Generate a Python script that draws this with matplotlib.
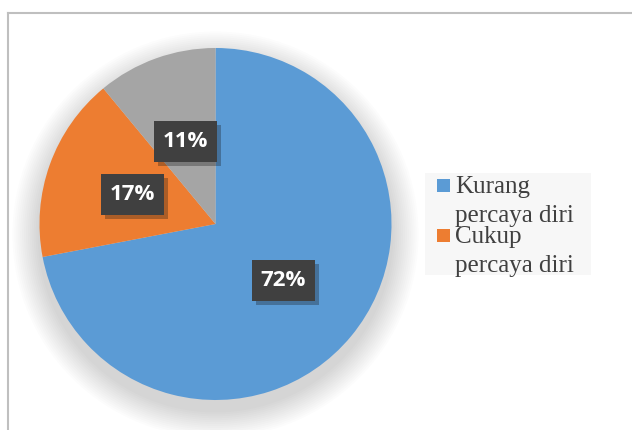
import matplotlib
matplotlib.use("Agg")
import matplotlib.pyplot as plt
from matplotlib.patches import Circle, Rectangle
import matplotlib.patheffects as pe

# data
labels = ["Kurang\npercaya diri", "Cukup\npercaya diri", "Tidak\npercaya diri"]
values = [72, 17, 11]
colors = ["#5B9BD5", "#ED7D31", "#A5A5A5"]

W, H = 632, 430
fig = plt.figure(figsize=(W / 100, H / 100), dpi=100)

def fx(px):
    return px / W

def fy(py):
    return 1 - py / H

# frame of the chart area (only left and top visible)
fig.add_artist(plt.Line2D([fx(8), fx(8)], [0, fy(13)], color="#BFBFBF", lw=1.5))
fig.add_artist(plt.Line2D([fx(8), 1], [fy(13), fy(13)], color="#BFBFBF", lw=1.5))

ax = fig.add_axes([fx(39.5), 1 - (224 + 176) / H, 352 / W, 352 / H])
ax.axis("off")

# soft shadow under the pie
for i in range(14):
    r = 1.0 + 0.011 * (14 - i)
    ax.add_patch(Circle((0, -0.06), r, color="black", alpha=0.012, lw=0, zorder=0,
                        clip_on=False))

wedges, texts, autotexts = ax.pie(
    values, colors=colors, startangle=90, counterclock=False,
    autopct="%d%%", pctdistance=0.5, radius=1.0,
    wedgeprops=dict(linewidth=0),
    textprops=dict(color="white", fontsize=16, fontweight="bold", family="Open Sans"),
)
ax.set_xlim(-1, 1)
ax.set_ylim(-1, 1)
ax.set_aspect("equal")

# dark label boxes with shadow
bw, bh = 63 / 176, 41 / 176
for t in autotexts:
    x, y = t.get_position()
    box = Rectangle((x - bw / 2, y - bh / 2), bw, bh, fc="#404040", ec="none", zorder=3)
    box.set_path_effects([pe.SimplePatchShadow(offset=(3, -3), alpha=0.3), pe.Normal()])
    ax.add_patch(box)
    t.set_zorder(4)

# legend drawn by hand (entries only for the first two categories)
fig.add_artist(Rectangle((fx(425), fy(275)), (591 - 425) / W, (275 - 173) / H,
                         transform=fig.transFigure, fc="#F7F7F7", ec="none"))
rows = [(193, 222), (243, 272)]
for (b1, b2), lab, c in zip(rows, labels[:2], colors[:2]):
    fig.add_artist(Rectangle((fx(437), fy(b1 - 1)), 13 / W, 13 / H,
                             transform=fig.transFigure, fc=c, ec="none"))
    first, second = lab.split("\n")
    fig.text(fx(455), fy(b1), first, ha="left", va="baseline", color="#404040",
             family="Liberation Serif", fontsize=18)
    fig.text(fx(455), fy(b2), second, ha="left", va="baseline", color="#404040",
             family="Liberation Serif", fontsize=18)

fig.savefig("out.png", dpi=100)
